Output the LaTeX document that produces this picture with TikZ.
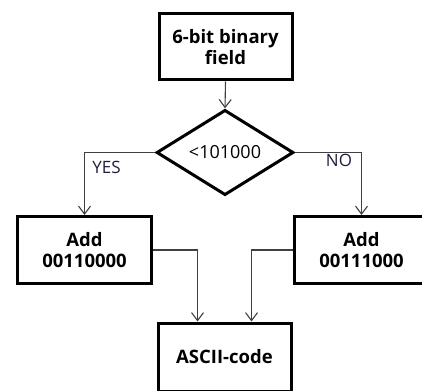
\documentclass[tikz,border=0pt]{standalone}
\usepackage{fontspec}
\setmainfont{Open Sans}
\usetikzlibrary{shapes.geometric,arrows.meta}
\definecolor{linegray}{HTML}{404040}
\definecolor{labelink}{HTML}{1E1E3C}
\tikzset{
  stepbox/.style={draw=black, line width=3pt, fill=white, rectangle,
    inner sep=0pt, align=center, font=\fontsize{18.5}{21}\selectfont\bfseries},
  testbox/.style={draw=black, line width=3pt, fill=white, diamond,
    inner sep=0pt, font=\fontsize{18}{21}\selectfont,
    minimum width=137pt, minimum height=64pt},
  flow/.style={draw=linegray, line width=1.1pt,
    -{Straight Barb[length=8pt,width=12pt,line width=1.1pt]}},
  branch/.style={text=labelink, inner sep=0pt, font=\fontsize{17}{21}\selectfont}
}
\begin{document}
\begin{tikzpicture}[x=1pt,y=-1pt]
  \useasboundingbox (0,0) rectangle (422,390);
  \clip (0,0) rectangle (422,390);

  % boxes of the flow
  \node[stepbox, minimum width=133pt, minimum height=66pt] (src) at (225.5,47) {6-bit binary\\field};
  \node[testbox] (test) at (225,152.5) {<101000};
  \node[stepbox, minimum width=134pt, minimum height=67pt] (addlo) at (84.5,250) {Add\\00110000};
  \node[stepbox, minimum width=134pt, minimum height=67pt] (addhi) at (361.5,250) {Add\\00111000};
  \node[stepbox, minimum width=133pt, minimum height=68pt] (out) at (224.5,357) {ASCII-code};

  % branch labels
  \node[branch] (yes) at (106.5,167) {YES};
  \node[branch] (no) at (339,160.5) {NO};

  % connectors
  \draw[flow] (src.south) -- (test.north);
  \draw[flow] (test.west) -| (addlo.north);
  \draw[flow] (test.east) -| (addhi.north);
  \draw[flow] (addlo.east) -| ([xshift=-27pt]out.north);
  \draw[flow] (addhi.west) -| ([xshift=27pt]out.north);
\end{tikzpicture}
\end{document}
